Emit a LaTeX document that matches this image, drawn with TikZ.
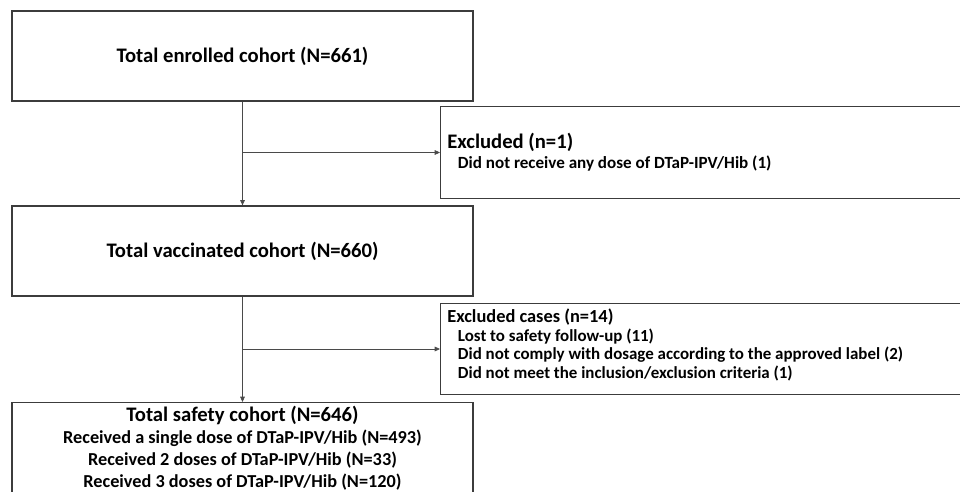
\documentclass[tikz,border=0pt]{standalone}
\usepackage{fontspec}
\setmainfont{Carlito}
\usetikzlibrary{arrows.meta,positioning,calc}
\definecolor{frame}{HTML}{3C3C3C}
\definecolor{link}{HTML}{4A4A4A}
\tikzset{
  cohort/.style={draw=frame,line width=0.9pt,fill=white,align=center,minimum width=345.75pt,minimum height=67.5pt,font=\bfseries\fontsize{15.5}{18}\selectfont},
  excl/.style={draw=frame,line width=0.9pt,fill=white,align=flush left,anchor=west,text width=410pt,inner xsep=5pt,minimum height=68.5pt,font=\bfseries\fontsize{12.8}{15}\selectfont},
  arr/.style={-{Triangle[length=4pt,width=3.5pt]},draw=link,line width=0.6pt}
}
\newcommand{\ind}{\hspace*{8pt}}

\begin{document}
\begin{tikzpicture}[x=0.75pt,y=-0.75pt]
  \useasboundingbox (0,0) rectangle (960,492);
  \clip (0,0) rectangle (960,492);
  % cohorts
  \node[cohort] (enr) at (242.5,56) {Total enrolled cohort (N=661)};
  \node[cohort] (vac) at (242.5,251) {Total vaccinated cohort (N=660)};
  \node[cohort,anchor=north,inner ysep=3pt,font=\bfseries\fontsize{13.7}{16.5}\selectfont] (saf) at (242.5,402)
    {{\fontsize{15.5}{16.5}\selectfont Total safety cohort (N=646)}\\
     Received a single dose of DTaP-IPV/Hib (N=493)\\
     Received 2 doses of DTaP-IPV/Hib (N=33)\\
     Received 3 doses of DTaP-IPV/Hib (N=120)\\[4pt]\mbox{}};
  % exclusions
  \node[excl] (ex1) at (440,152.5) {{\fontsize{15.5}{15}\selectfont Excluded (n=1)}\\
    \ind Did not receive any dose of DTaP-IPV/Hib (1)};
  \node[excl,font=\bfseries\fontsize{12.7}{13.9}\selectfont] (ex2) at (440,349) {{\fontsize{13.8}{13.9}\selectfont Excluded cases (n=14)}\\
    \ind Lost to safety follow-up (11)\\
    \ind Did not comply with dosage according to the approved label (2)\\
    \ind Did not meet the inclusion/exclusion criteria (1)\\[-6pt]\mbox{}};
  % flow
  \draw[arr] (enr) -- (vac);
  \draw[arr] (vac) -- (saf);
  \coordinate (b1) at (enr.south |- ex1.west);
  \coordinate (b2) at (vac.south |- ex2.west);
  \draw[arr] (b1) -- (ex1.west);
  \draw[arr] (b2) -- (ex2.west);
\end{tikzpicture}
\end{document}
